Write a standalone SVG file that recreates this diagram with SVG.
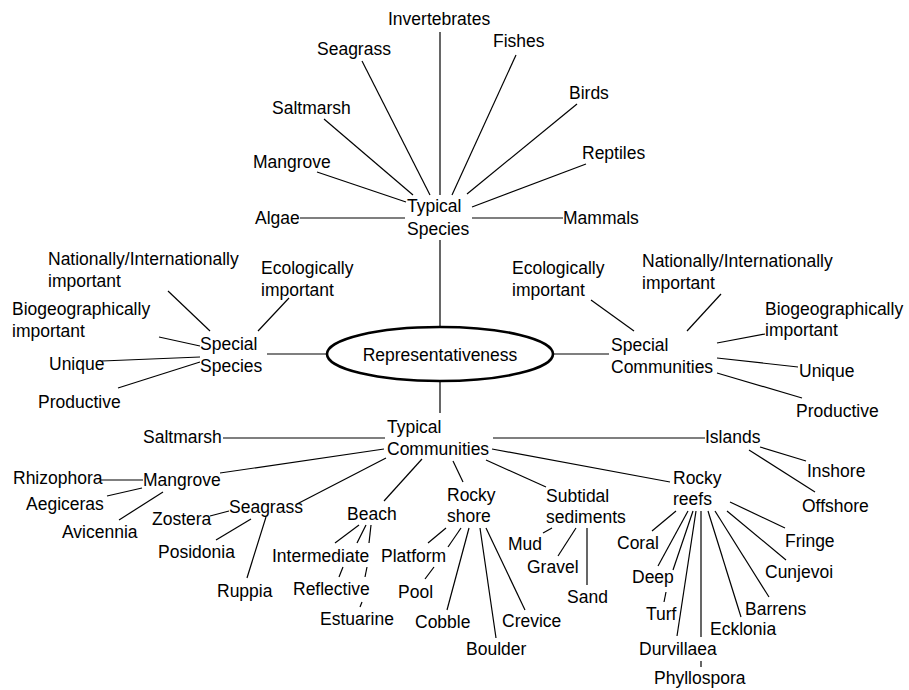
<svg xmlns="http://www.w3.org/2000/svg" width="909" height="690" viewBox="0 0 909 690">
<style>
text { font-family: "Liberation Sans", Arial, sans-serif; font-size: 17.5px; fill: #000; }
.c line { stroke: #000; stroke-width: 1.2; fill: none; }
.hub { fill: #fff; stroke: #000; stroke-width: 2.6; }
</style>
<rect width="909" height="690" fill="#fff"/>
<g class="c" id="connectors">
  <!-- Typical Species -->
  <line x1="440" y1="32" x2="440" y2="195"/>
  <line x1="516" y1="55" x2="452" y2="195"/>
  <line x1="362" y1="61" x2="430" y2="195"/>
  <line x1="577" y1="104" x2="467" y2="194"/>
  <line x1="324" y1="119" x2="413" y2="195"/>
  <line x1="586" y1="164" x2="472" y2="207"/>
  <line x1="317" y1="172" x2="406" y2="202"/>
  <line x1="300" y1="218" x2="405" y2="218"/>
  <line x1="472" y1="218" x2="563" y2="218"/>
  <line x1="440" y1="240" x2="440" y2="327"/>
  <!-- Special Species -->
  <line x1="168" y1="291" x2="210" y2="331"/>
  <line x1="289" y1="298" x2="258" y2="331"/>
  <line x1="159" y1="337" x2="200" y2="346"/>
  <line x1="102" y1="361" x2="200" y2="357"/>
  <line x1="118" y1="388" x2="200" y2="362"/>
  <line x1="267" y1="354" x2="327" y2="354"/>
  <!-- Special Communities -->
  <line x1="591" y1="300" x2="634" y2="331"/>
  <line x1="721" y1="294" x2="687" y2="331"/>
  <line x1="717" y1="343" x2="765" y2="334"/>
  <line x1="717" y1="358" x2="798" y2="367"/>
  <line x1="717" y1="373" x2="802" y2="398"/>
  <line x1="554" y1="354" x2="609" y2="354"/>
  <!-- Typical Communities -->
  <line x1="440" y1="382" x2="440" y2="413"/>
  <line x1="223" y1="438" x2="385" y2="438"/>
  <line x1="384" y1="449" x2="220" y2="473"/>
  <line x1="100" y1="480" x2="143" y2="480"/>
  <line x1="107" y1="496" x2="142" y2="488"/>
  <line x1="119" y1="520" x2="163" y2="492"/>
  <line x1="386" y1="458" x2="297" y2="504"/>
  <line x1="210" y1="516" x2="229" y2="511"/>
  <line x1="216" y1="540" x2="251" y2="519"/>
  <line x1="247" y1="578" x2="266" y2="517"/>
  <line x1="422" y1="459" x2="384" y2="501"/>
  <line x1="359" y1="525" x2="335" y2="543"/>
  <line x1="366" y1="525" x2="357" y2="543"/>
  <line x1="343" y1="567" x2="339" y2="577"/>
  <line x1="371" y1="525" x2="369" y2="543"/>
  <line x1="367" y1="567" x2="365" y2="577"/>
  <line x1="362" y1="602" x2="360" y2="607"/>
  <line x1="453" y1="461" x2="463" y2="482"/>
  <line x1="446" y1="528" x2="428" y2="543"/>
  <line x1="461" y1="528" x2="448" y2="547"/>
  <line x1="434" y1="567" x2="425" y2="579"/>
  <line x1="469" y1="528" x2="447" y2="610"/>
  <line x1="480" y1="528" x2="496" y2="638"/>
  <line x1="486" y1="528" x2="525" y2="610"/>
  <line x1="486" y1="460" x2="546" y2="487"/>
  <line x1="552" y1="528" x2="543" y2="533"/>
  <line x1="576" y1="528" x2="558" y2="556"/>
  <line x1="587" y1="528" x2="587" y2="585"/>
  <line x1="493" y1="438" x2="705" y2="438"/>
  <line x1="760" y1="447" x2="806" y2="461"/>
  <line x1="749" y1="450" x2="815" y2="492"/>
  <line x1="492" y1="449" x2="670" y2="482"/>
  <line x1="676" y1="511" x2="652" y2="531"/>
  <line x1="688" y1="511" x2="658" y2="566"/>
  <line x1="693" y1="511" x2="673" y2="570"/>
  <line x1="666" y1="592" x2="664" y2="602"/>
  <line x1="696" y1="511" x2="677" y2="636"/>
  <line x1="701" y1="511" x2="701" y2="637"/>
  <line x1="701" y1="661" x2="701" y2="667"/>
  <line x1="708" y1="511" x2="741" y2="617"/>
  <line x1="715" y1="511" x2="769" y2="597"/>
  <line x1="727" y1="511" x2="786" y2="560"/>
  <line x1="730" y1="502" x2="785" y2="528"/>
</g>
<g id="n-representativeness"><ellipse class="hub" cx="440" cy="354" rx="113" ry="27"/><text x="440" y="361" text-anchor="middle">Representativeness</text></g>
<g id="n-typical-species"><text x="407" y="212">Typical<tspan x="407" y="235">Species</tspan></text></g>
<g id="n-ts-invertebrates"><text x="388" y="25">Invertebrates</text></g>
<g id="n-ts-fishes"><text x="493" y="47">Fishes</text></g>
<g id="n-ts-seagrass"><text x="317" y="55">Seagrass</text></g>
<g id="n-ts-birds"><text x="569" y="99">Birds</text></g>
<g id="n-ts-saltmarsh"><text x="272" y="114">Saltmarsh</text></g>
<g id="n-ts-reptiles"><text x="582" y="159">Reptiles</text></g>
<g id="n-ts-mangrove"><text x="253" y="168">Mangrove</text></g>
<g id="n-ts-algae"><text x="255" y="224">Algae</text></g>
<g id="n-ts-mammals"><text x="563" y="224">Mammals</text></g>
<g id="n-special-species"><text x="200" y="350">Special<tspan x="200" y="372">Species</tspan></text></g>
<g id="n-ss-national"><text x="48" y="265">Nationally/Internationally<tspan x="48" y="287">important</tspan></text></g>
<g id="n-ss-ecological"><text x="261" y="274">Ecologically<tspan x="261" y="296">important</tspan></text></g>
<g id="n-ss-biogeo"><text x="12" y="315">Biogeographically<tspan x="12" y="337">important</tspan></text></g>
<g id="n-ss-unique"><text x="49" y="370">Unique</text></g>
<g id="n-ss-productive"><text x="38" y="408">Productive</text></g>
<g id="n-special-communities"><text x="611" y="351">Special<tspan x="611" y="373">Communities</tspan></text></g>
<g id="n-sc-ecological"><text x="512" y="274">Ecologically<tspan x="512" y="296">important</tspan></text></g>
<g id="n-sc-national"><text x="642" y="267">Nationally/Internationally<tspan x="642" y="289">important</tspan></text></g>
<g id="n-sc-biogeo"><text x="765" y="315">Biogeographically<tspan x="765" y="336">important</tspan></text></g>
<g id="n-sc-unique"><text x="799" y="377">Unique</text></g>
<g id="n-sc-productive"><text x="796" y="417">Productive</text></g>
<g id="n-typical-communities"><text x="387" y="433">Typical<tspan x="387" y="455">Communities</tspan></text></g>
<g id="n-tc-saltmarsh"><text x="143" y="443">Saltmarsh</text></g>
<g id="n-tc-mangrove"><text x="143" y="486">Mangrove</text></g>
<g id="n-rhizophora"><text x="13" y="484">Rhizophora</text></g>
<g id="n-aegiceras"><text x="26" y="510">Aegiceras</text></g>
<g id="n-avicennia"><text x="62" y="538">Avicennia</text></g>
<g id="n-tc-seagrass"><text x="229" y="513">Seagrass</text></g>
<g id="n-zostera"><text x="152" y="525">Zostera</text></g>
<g id="n-posidonia"><text x="158" y="558">Posidonia</text></g>
<g id="n-ruppia"><text x="217" y="597">Ruppia</text></g>
<g id="n-beach"><text x="347" y="520">Beach</text></g>
<g id="n-intermediate"><text x="272" y="562">Intermediate</text></g>
<g id="n-reflective"><text x="293" y="595">Reflective</text></g>
<g id="n-estuarine"><text x="320" y="625">Estuarine</text></g>
<g id="n-rocky-shore"><text x="447" y="501">Rocky<tspan x="447" y="522">shore</tspan></text></g>
<g id="n-platform"><text x="381" y="562">Platform</text></g>
<g id="n-pool"><text x="398" y="598">Pool</text></g>
<g id="n-cobble"><text x="415" y="628">Cobble</text></g>
<g id="n-boulder"><text x="466" y="655">Boulder</text></g>
<g id="n-crevice"><text x="502" y="627">Crevice</text></g>
<g id="n-subtidal"><text x="546" y="502">Subtidal<tspan x="546" y="523">sediments</tspan></text></g>
<g id="n-mud"><text x="508" y="550">Mud</text></g>
<g id="n-gravel"><text x="527" y="573">Gravel</text></g>
<g id="n-sand"><text x="567" y="603">Sand</text></g>
<g id="n-islands"><text x="705" y="443">Islands</text></g>
<g id="n-inshore"><text x="807" y="477">Inshore</text></g>
<g id="n-offshore"><text x="802" y="512">Offshore</text></g>
<g id="n-rocky-reefs"><text x="673" y="484">Rocky<tspan x="673" y="505">reefs</tspan></text></g>
<g id="n-coral"><text x="617" y="549">Coral</text></g>
<g id="n-deep"><text x="632" y="583">Deep</text></g>
<g id="n-turf"><text x="646" y="620">Turf</text></g>
<g id="n-durvillaea"><text x="639" y="655">Durvillaea</text></g>
<g id="n-phyllospora"><text x="654" y="684">Phyllospora</text></g>
<g id="n-ecklonia"><text x="710" y="635">Ecklonia</text></g>
<g id="n-barrens"><text x="745" y="615">Barrens</text></g>
<g id="n-cunjevoi"><text x="765" y="578">Cunjevoi</text></g>
<g id="n-fringe"><text x="785" y="547">Fringe</text></g>
</svg>
